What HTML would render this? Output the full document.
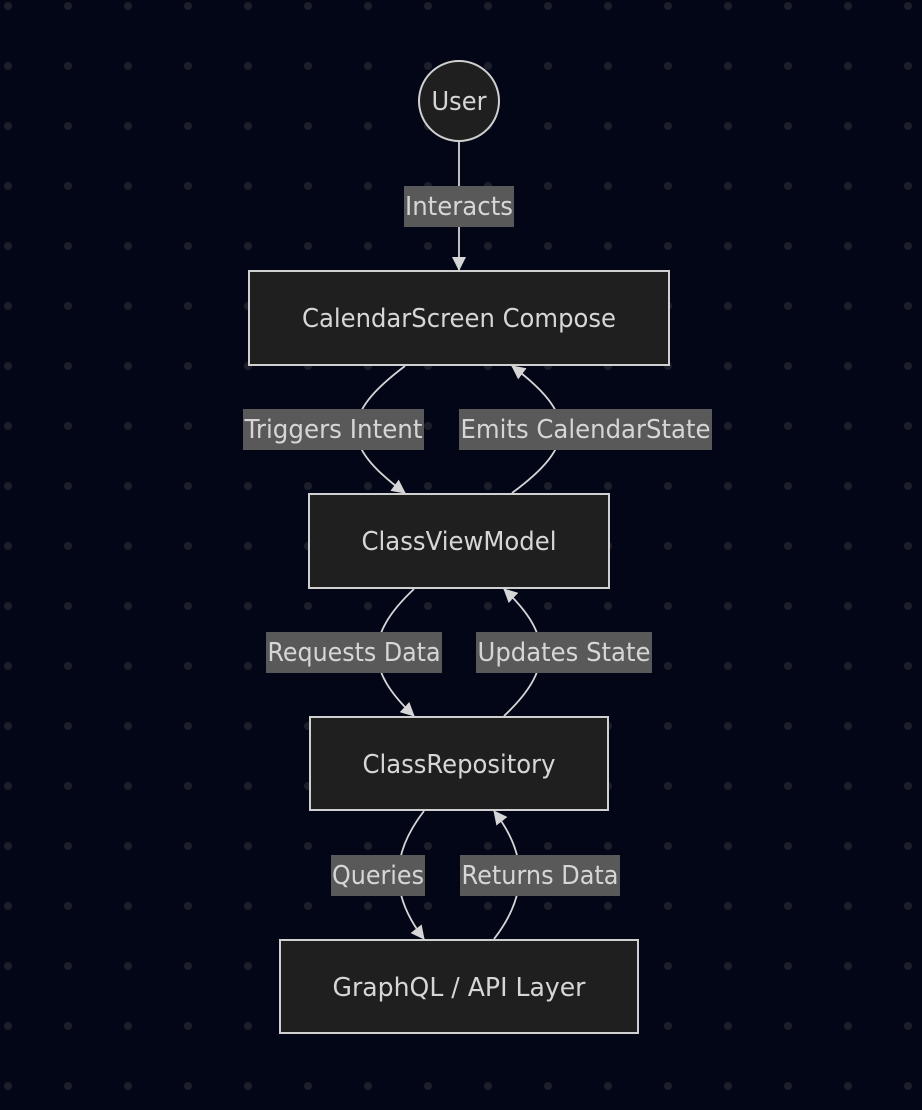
<!DOCTYPE html>
<html><head><meta charset="utf-8"><style>
html,body{margin:0;padding:0;background:#020617;}
svg{display:block}
text{font-family:"DejaVu Sans","Liberation Sans",sans-serif;fill:#d6d6d6;}
</style></head><body>
<svg width="922" height="1110" viewBox="0 0 922 1110" xmlns="http://www.w3.org/2000/svg">
<defs>
<pattern id="dots" x="0" y="0" width="60" height="60" patternUnits="userSpaceOnUse">
<circle cx="8" cy="6" r="4" fill="#1c1f29"/>
</pattern>
<marker id="ar" markerWidth="14" markerHeight="14" refX="13" refY="7" orient="auto" markerUnits="userSpaceOnUse">
<path d="M0,0 L14,7 L0,14 z" fill="#d6d6d6"/>
</marker>
</defs>
<rect width="922" height="1110" fill="#020617"/>
<rect width="922" height="1110" fill="url(#dots)"/>
<g fill="none" stroke="#d6d6d6" stroke-width="1.8">
<path d="M459,142 L459,270" marker-end="url(#ar)"/>
<path d="M405,366 C340,415 340,445 405,493" marker-end="url(#ar)"/>
<path d="M512,493 C577,445 577,415 512,366" marker-end="url(#ar)"/>
<path d="M414,589 C365,635 365,670 414,716" marker-end="url(#ar)"/>
<path d="M504,716 C553,670 553,635 504,589" marker-end="url(#ar)"/>
<path d="M424,811 C390,855 390,895 424,939" marker-end="url(#ar)"/>
<path d="M494,939 C528,895 528,855 494,811" marker-end="url(#ar)"/>
</g>
<g fill="#1f1f1f" stroke="#d0d0d0" stroke-width="2">
<circle cx="459" cy="101" r="40"/>
<rect x="249" y="271" width="420" height="94"/>
<rect x="309" y="494" width="300" height="94"/>
<rect x="310" y="717" width="298" height="93"/>
<rect x="280" y="940" width="358" height="93"/>
</g>
<g fill="#595959">
<rect x="404" y="186" width="110" height="41"/>
<rect x="243" y="409" width="181" height="41"/>
<rect x="459" y="409" width="253" height="41"/>
<rect x="266" y="632" width="176" height="41"/>
<rect x="476" y="632" width="176" height="41"/>
<rect x="331" y="855" width="94" height="41"/>
<rect x="460" y="855" width="160" height="41"/>
</g>
<g font-size="26" text-anchor="middle">
<text x="459" y="110" textLength="55" lengthAdjust="spacingAndGlyphs">User</text>
<text x="459" y="327" textLength="314" lengthAdjust="spacingAndGlyphs">CalendarScreen Compose</text>
<text x="459" y="550" textLength="195" lengthAdjust="spacingAndGlyphs">ClassViewModel</text>
<text x="459" y="773" textLength="193" lengthAdjust="spacingAndGlyphs">ClassRepository</text>
<text x="459" y="996" textLength="253" lengthAdjust="spacingAndGlyphs">GraphQL / API Layer</text>
<text x="459" y="215" textLength="108" lengthAdjust="spacingAndGlyphs">Interacts</text>
<text x="333.5" y="438" textLength="178" lengthAdjust="spacingAndGlyphs">Triggers Intent</text>
<text x="585.5" y="438" textLength="250" lengthAdjust="spacingAndGlyphs">Emits CalendarState</text>
<text x="354" y="661" textLength="173" lengthAdjust="spacingAndGlyphs">Requests Data</text>
<text x="564" y="661" textLength="173" lengthAdjust="spacingAndGlyphs">Updates State</text>
<text x="378" y="884" textLength="92" lengthAdjust="spacingAndGlyphs">Queries</text>
<text x="540" y="884" textLength="157" lengthAdjust="spacingAndGlyphs">Returns Data</text>
</g>
</svg>
</body></html>
